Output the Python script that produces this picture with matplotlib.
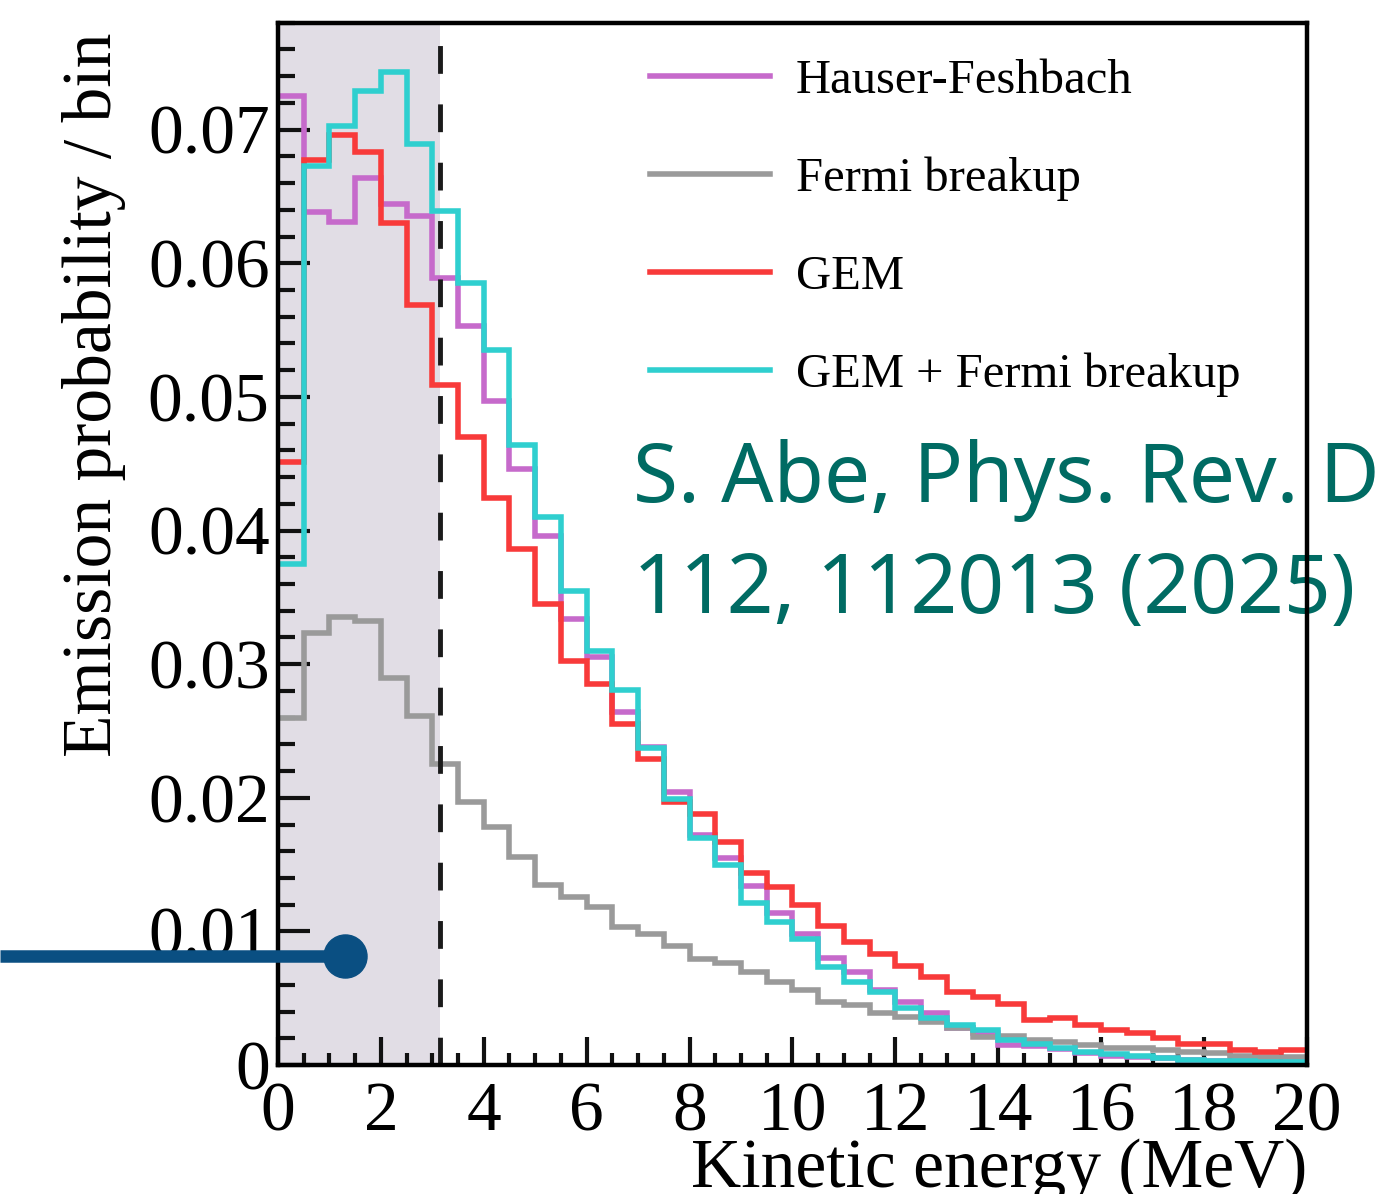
import numpy as np
import matplotlib
matplotlib.use("Agg")
import matplotlib.pyplot as plt
from matplotlib.lines import Line2D
from matplotlib.ticker import MultipleLocator, FuncFormatter

# bin edges: 0-20 MeV in 0.5 MeV bins
edges = np.arange(0, 20.25, 0.5)

hauser_feshbach = [0.0725, 0.0638, 0.0631, 0.0664, 0.0644, 0.0635, 0.0589, 0.0553, 0.0497, 0.0446,
                   0.0396, 0.0334, 0.0305, 0.0264, 0.0238, 0.0204, 0.0172, 0.0155, 0.0134, 0.0114,
                   0.0098, 0.0080, 0.0070, 0.0056, 0.0047, 0.0039, 0.0028, 0.0024, 0.0015, 0.0014,
                   0.0012, 0.0009, 0.0007, 0.0006, 0.0005, 0.0004, 0.0003, 0.0003, 0.0002, 0.0002]
fermi_breakup = [0.0260, 0.0323, 0.0335, 0.0332, 0.0290, 0.0261, 0.0225, 0.0197, 0.0178, 0.0156,
                 0.0135, 0.0126, 0.0118, 0.0103, 0.0098, 0.0089, 0.0079, 0.0076, 0.0070, 0.0062,
                 0.0056, 0.0047, 0.0045, 0.0039, 0.0036, 0.0032, 0.0028, 0.0021, 0.0022, 0.0019,
                 0.0017, 0.0015, 0.0013, 0.0013, 0.0011, 0.0010, 0.0009, 0.0007, 0.0006, 0.0006]
gem = [0.0451, 0.0677, 0.0696, 0.0683, 0.0630, 0.0569, 0.0509, 0.0470, 0.0424, 0.0386,
       0.0345, 0.0302, 0.0285, 0.0255, 0.0229, 0.0197, 0.0188, 0.0167, 0.0144, 0.0133,
       0.0120, 0.0104, 0.0092, 0.0083, 0.0074, 0.0066, 0.0055, 0.0051, 0.0046, 0.0034,
       0.0035, 0.0030, 0.0026, 0.0024, 0.0020, 0.0016, 0.0016, 0.0011, 0.0010, 0.0011]
gem_fermi = [0.0375, 0.0673, 0.0703, 0.0729, 0.0743, 0.0689, 0.0639, 0.0585, 0.0535, 0.0464,
             0.0410, 0.0355, 0.0310, 0.0281, 0.0237, 0.0199, 0.0170, 0.0150, 0.0121, 0.0107,
             0.0094, 0.0073, 0.0062, 0.0055, 0.0043, 0.0035, 0.0030, 0.0026, 0.0019, 0.0016,
             0.0013, 0.0010, 0.0008, 0.0007, 0.0005, 0.0004, 0.0003, 0.0003, 0.0002, 0.0002]

series = [
    ("Hauser-Feshbach", hauser_feshbach, "#c66acb"),
    ("Fermi breakup", fermi_breakup, "#9a9a9a"),
    ("GEM", gem, "#f83a3a"),
    ("GEM + Fermi breakup", gem_fermi, "#2fcfcf"),
]
cut_energy = 3.15

plt.rcParams["font.family"] = ["Liberation Serif", "DejaVu Serif"]
plt.rcParams["lines.scale_dashes"] = False

fig = plt.figure(figsize=(13.83, 11.94), dpi=100)
ax = fig.add_axes([0.201, 0.108, 0.744, 0.873])

ax.axvspan(0, cut_energy, color="#e1dde5", zorder=0, lw=0)
for label, vals, col in series:
    ax.stairs(vals, edges, baseline=None, color=col, lw=4, label=label, zorder=2)
ax.axvline(cut_energy, color="#1a1a1a", lw=3.5, dashes=(20, 22), zorder=2.2)

ax.set_xlim(0, 20)
ax.set_ylim(0, 0.078)
ax.xaxis.set_major_locator(MultipleLocator(2))
ax.xaxis.set_minor_locator(MultipleLocator(0.5))
ax.yaxis.set_major_locator(MultipleLocator(0.01))
ax.yaxis.set_minor_locator(MultipleLocator(0.002))
ax.yaxis.set_major_formatter(FuncFormatter(lambda v, p: f"{v:g}"))
ax.tick_params(axis="both", which="both", direction="in", top=False, right=False,
               width=3, labelsize=50, color="#111111")
ax.tick_params(axis="y", which="major", length=23, pad=6)
ax.tick_params(axis="y", which="minor", length=12)
ax.tick_params(axis="x", which="major", length=20, pad=12)
ax.tick_params(axis="x", which="minor", length=9)
for s in ax.spines.values():
    s.set_linewidth(3.2)

ax.set_xlabel("Kinetic energy (MeV)", fontsize=50)
ax.xaxis.set_label_coords(1.0, -0.07)
ax.xaxis.label.set_ha("right")
ax.set_ylabel("Emission probability / bin", fontsize=50)
ax.yaxis.set_label_coords(-0.148, 0.643)

ax.legend(loc="upper left", bbox_to_anchor=(0.3615, 0.965), frameon=False, fontsize=35,
          handlelength=2.47, handletextpad=0.53, labelspacing=1.1, borderpad=0,
          borderaxespad=0)

# citation text overlay, drawn under the frame
ax.text(633 / 1383, 1 - 502 / 1194, "S. Abe, Phys. Rev. D", transform=fig.transFigure,
        color="#006b63", fontsize=59, family="Noto Sans",
        va="baseline", ha="left", clip_on=False, zorder=1.5)
ax.text(633 / 1383, 1 - 613 / 1194, "112, 112013 (2025)", transform=fig.transFigure,
        color="#006b63", fontsize=59, family="Noto Sans",
        va="baseline", ha="left", clip_on=False, zorder=1.5)

# pointer line with dot
y_ptr = 1 - 956 / 1194
fig.add_artist(Line2D([0, 345 / 1383], [y_ptr, y_ptr], transform=fig.transFigure,
                      color="#0a4f82", lw=9, solid_capstyle="butt", zorder=5))
fig.add_artist(Line2D([345 / 1383], [y_ptr], transform=fig.transFigure, marker="o",
                      markersize=31, color="#0a4f82", lw=0, zorder=5))

fig.savefig("out.png", dpi=100)
